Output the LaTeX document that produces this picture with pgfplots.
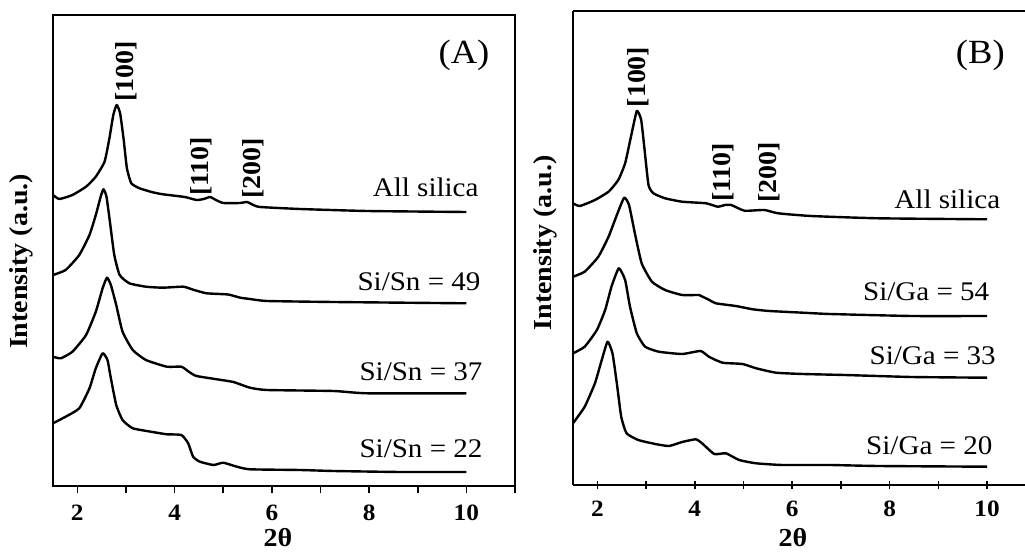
\documentclass[border=0pt]{standalone}
\usepackage{fontspec}
\setmainfont{Liberation Serif}[FakeStretch=1.08]
\usepackage{pgfplots}
\pgfplotsset{compat=1.18}
\newcommand\lab{\fontsize{27}{28}\selectfont}
\newcommand\hkl{\fontsize{26}{28}\selectfont\bfseries}
\newcommand\tickf{\fontsize{23.5}{24}\selectfont\bfseries}
\newcommand\panelf{\fontsize{34}{36}\selectfont}
\pgfplotsset{
  common/.style={
    scale only axis, anchor=south west, clip=false,
    xtick={2,4,6,8,10}, xticklabels={2,4,6,8,10},
    minor xtick={3,5,7,9,11}, ytick=\empty,
    xtick pos=left, tick align=outside,
    major tick length=7bp, minor tick length=7bp,
    every tick/.style={line width=1.6bp, black},
    xticklabel style={font=\tickf, inner sep=0pt, yshift=-12bp},
    cycle list={{black}},
    every axis plot post/.append style={black, line width=2.4bp, smooth, tension=0.3, mark=none, line join=round},
  }
}
\begin{document}
\begin{tikzpicture}
\path[use as bounding box] (0,0) rectangle (1025bp,552bp);
% Panel A
\begin{axis}[common, name=A, at={(53bp,66bp)}, width=462bp, height=471bp,
  xmin=1.5, xmax=11, ymin=-486, ymax=-15,
  axis line style={line width=2.2bp}]
\addplot coordinates {(1.5,-195)(1.63,-199)(1.90,-195)(2.18,-186.7)(2.38,-176.7)(2.56,-161.7)(2.66,-138.3)(2.74,-115)(2.81,-105)(2.88,-113.3)(2.95,-138.3)(3.02,-168.3)(3.11,-183.3)(3.28,-188.3)(3.55,-192.3)(3.76,-194.3)(4.21,-197)(4.45,-200)(4.60,-199)(4.73,-197)(4.85,-200)(5.00,-203)(5.35,-203)(5.49,-202)(5.62,-205)(5.76,-207)(6.58,-209)(7.96,-211)(10,-212)};
\addplot coordinates {(1.5,-275)(1.76,-270)(2.04,-255)(2.25,-235)(2.38,-215)(2.49,-195)(2.54,-189.3)(2.60,-196.7)(2.67,-221.7)(2.76,-255)(2.87,-275)(3.07,-283.3)(3.41,-286.7)(3.76,-287.7)(4.18,-286.7)(4.40,-290)(4.66,-293.3)(5.10,-294.5)(5.35,-297.7)(5.55,-299)(5.90,-301)(7.27,-302)(10,-303.3)};
\addplot coordinates {(1.5,-356.7)(1.66,-358.3)(1.90,-351.7)(2.18,-335)(2.38,-311.7)(2.52,-288.3)(2.61,-277.7)(2.69,-285)(2.80,-305)(2.93,-331.7)(3.14,-350)(3.41,-360)(3.84,-366.7)(4.14,-366.7)(4.30,-372)(4.45,-376)(4.87,-379.3)(5.21,-382)(5.55,-387.7)(5.90,-390)(7.27,-391)(7.96,-393.3)(10,-393.3)};
\addplot coordinates {(1.5,-423.3)(1.76,-416.7)(2.04,-408.3)(2.25,-388.3)(2.38,-368.3)(2.52,-353.3)(2.62,-360)(2.69,-378.3)(2.80,-405)(2.93,-420)(3.14,-428.3)(3.55,-432)(3.84,-434.3)(4.14,-435)(4.28,-443.3)(4.38,-456.7)(4.52,-461.7)(4.80,-465)(5.00,-462.7)(5.28,-466.7)(5.55,-469.3)(6.58,-470)(7.27,-471)(8.65,-472)(10,-472)};
\end{axis}
% Panel B
\begin{axis}[common, name=B, at={(573bp,67bp)}, width=452bp, height=474bp,
  xmin=1.5, xmax=10.78, ymin=-485, ymax=-11,
  axis lines=left, axis line style={-, line width=2.2bp}]
\addplot coordinates {(1.5,-203.3)(1.64,-206)(1.95,-200)(2.23,-191.7)(2.43,-180)(2.57,-163.3)(2.69,-136.7)(2.81,-111)(2.90,-120)(2.97,-150)(3.05,-185)(3.15,-193.3)(3.39,-198.3)(3.74,-201.7)(4.23,-203.3)(4.47,-206.7)(4.62,-205)(4.75,-205)(5.02,-210.7)(5.43,-210)(5.71,-213.3)(6.39,-216)(7.77,-218.3)(10,-219.3)};
\addplot coordinates {(1.5,-276.7)(1.74,-271.7)(2.02,-256.7)(2.23,-236.7)(2.40,-215)(2.55,-197.7)(2.65,-205)(2.77,-233.3)(2.91,-263.3)(3.12,-281.7)(3.39,-290)(3.74,-295)(4.09,-295)(4.16,-296.7)(4.30,-300)(4.43,-303.3)(4.84,-306)(5.19,-309.3)(5.53,-311)(6.22,-312.7)(6.77,-314)(8.45,-316)(10,-316)};
\addplot coordinates {(1.5,-353.3)(1.74,-346.7)(1.99,-330)(2.16,-310)(2.29,-286.7)(2.44,-268.3)(2.57,-280)(2.67,-306.7)(2.81,-333.3)(2.98,-346.7)(3.26,-351.7)(3.74,-354)(4.12,-351)(4.29,-356.7)(4.57,-362.7)(4.98,-364)(5.26,-368.3)(5.67,-372.7)(6.22,-374)(7.08,-375)(8.45,-377)(10,-377.7)};
\addplot coordinates {(1.5,-423.3)(1.74,-406.7)(1.95,-383.3)(2.09,-360)(2.21,-341.7)(2.31,-353.3)(2.40,-383.3)(2.49,-416.7)(2.60,-433.3)(2.84,-440)(3.19,-444)(3.47,-446)(3.74,-442)(4.02,-439.3)(4.15,-443.3)(4.40,-454)(4.64,-453.3)(4.91,-460)(5.26,-463.3)(5.80,-465)(6.77,-465)(7.77,-466)(10,-466.7)};
\end{axis}
\draw[line width=2.2bp] (B.north west) -- (B.north east);
% Panel A texts
\node[anchor=base, inner sep=0] at (464bp,488.7bp) {\panelf (A)};
\node[rotate=90, anchor=west, inner sep=0] at (126.7bp,450bp) {\hkl [100]};
\node[rotate=90, anchor=west, inner sep=0] at (201.7bp,356bp) {\hkl [110]};
\node[rotate=90, anchor=west, inner sep=0] at (253bp,353bp) {\hkl [200]};
\node[anchor=base, inner sep=0] at (425.7bp,355.3bp) {\lab All silica};
\node[anchor=base, inner sep=0] at (419bp,261bp) {\lab Si/Sn = 49};
\node[anchor=base, inner sep=0] at (421bp,171bp) {\lab Si/Sn = 37};
\node[anchor=base, inner sep=0] at (421bp,94.3bp) {\lab Si/Sn = 22};
\node[rotate=90, inner sep=0] at (21.7bp,290.5bp) {\hkl Intensity (a.u.)};
\node[anchor=base, inner sep=0] at (278bp,6bp) {\fontsize{26}{27}\selectfont\bfseries 2θ};
% Panel B texts
\node[anchor=base, inner sep=0] at (980.3bp,488.7bp) {\panelf (B)};
\node[rotate=90, anchor=west, inner sep=0] at (638.7bp,444.5bp) {\hkl [100]};
\node[rotate=90, anchor=west, inner sep=0] at (723.3bp,350bp) {\hkl [110]};
\node[rotate=90, anchor=west, inner sep=0] at (769.3bp,349bp) {\hkl [200]};
\node[anchor=base, inner sep=0] at (947.3bp,343.7bp) {\lab All silica};
\node[anchor=base, inner sep=0] at (926.2bp,251bp) {\lab Si/Ga = 54};
\node[anchor=base, inner sep=0] at (932.7bp,187.7bp) {\lab Si/Ga = 33};
\node[anchor=base, inner sep=0] at (929.3bp,97.7bp) {\lab Si/Ga = 20};
\node[rotate=90, inner sep=0] at (545bp,309bp) {\hkl Intensity (a.u.)};
\node[anchor=base, inner sep=0] at (792.8bp,6bp) {\fontsize{26}{27}\selectfont\bfseries 2θ};
\end{tikzpicture}
\end{document}
